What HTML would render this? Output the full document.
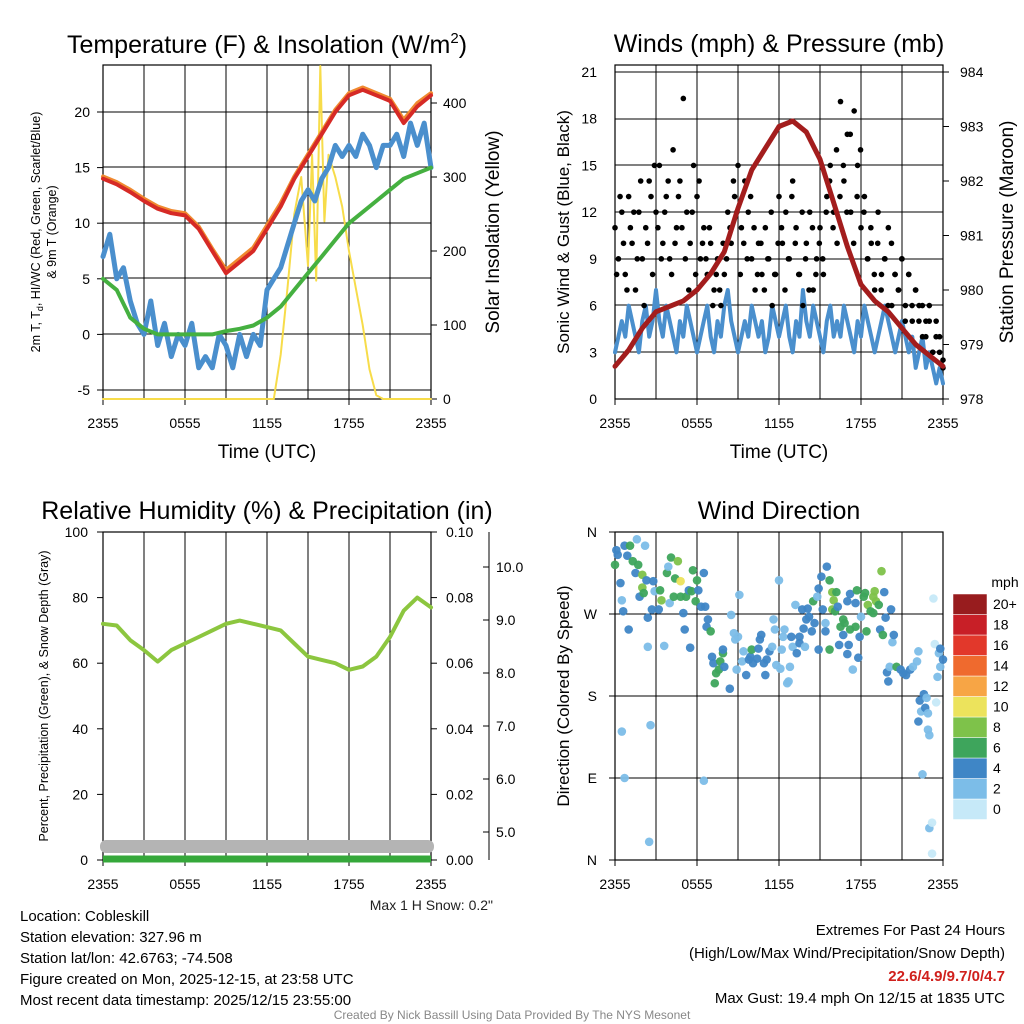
<!DOCTYPE html>
<html><head><meta charset="utf-8"><style>
body{margin:0;background:#fff;}
svg{display:block;font-family:"Liberation Sans",sans-serif;}
</style></head><body>
<svg id="c" width="1024" height="1024" viewBox="0 0 1024 1024"></svg>
<script>
// ---- data ----
var tempRed=[14,13.5,12.8,12,11.3,10.9,10.7,9.5,7.5,5.5,6.5,7.5,9.5,11.5,14,16,18,20,21.5,22,21.5,21,19,20.5,21.5];
var tempOrange=[14.2,13.7,13,12.2,11.5,11.1,10.9,9.7,7.7,5.8,6.8,7.8,9.8,11.8,14.2,16.2,18.2,20.2,21.7,22.2,21.7,21.2,19.3,20.8,21.7];
var dewGreen=[5,4,1.5,0.5,0,0,0,0,0,0.3,0.5,0.8,1.5,2.5,4,5.5,7,8.5,10,11,12,13,14,14.5,15];
var chillBlue=[7,9,5,6,3,1,0,3,-1,1,-2,0,-1,1,-3,-2,-3,0,-1,-3,0,-2,0,-1,4,5,6,8,10,12,13,12,14,15,17,16,17,16,18,17,15,17,17,18,16,19,17,19,15];
var solarH=[0,12,12.5,13,13.5,14,14.5,15,15.3,15.6,15.9,16.2,16.5,17,17.5,18,18.5,19,19.5,20,20.5,24];
var solarV=[0,0,0,60,150,250,300,180,330,160,450,240,330,300,260,200,150,100,40,5,0,0];
var windBlue=[3,4,5,4,6,5,4,3,5,6,4,5,7,5,4,6,5,4,3,5,4,6,5,4,3,4,5,6,4,3,5,4,6,7,5,4,3,4,5,4,6,5,4,5,3,4,6,5,4,5,6,4,3,5,4,7,5,4,6,5,4,3,5,6,4,5,4,6,5,4,3,5,4,6,5,4,3,4,5,6,5,4,3,4,5,4,3,4,2,3,4,2,3,2,1,2,1];
var gust=[11,9,12,8,13,10,7,12,9,11,14,8,12,15,10,13,9,16,11,14,19.3,12,10,15,13,9,11,8,10,7,9,6,8,12,10,13,15,11,14,12,9,7,10,8,11,9,6,8,13,10,12,9,14,11,8,6,10,12,7,9,11,8,13,15,12,10,19.1,14,17,12,18.5,15,11,13,9,10,7,12,8,9,11,6,8,7,9,6,8,5,7,6,4,5,6,3,5,4,2.5];
var gust2=[8,13,10,7,11,12,9,14,6,10,13,15,11,9,12,14,8,10,13,11,9,7,12,8,14,10,9,11,6,8,7,10,9,11,14,12,8,10,9,13,11,8,10,7,9,12,8,10,11,7,9,13,10,8,12,9,7,11,8,10,9,12,14,11,16,13,15,12,17,10,13,16,12,9,11,8,10,7,9,6,10,8,7,9,5,8,6,7,5,6,4,5,3,4,3,2];
var pressure=[978.6,978.9,979.3,979.6,979.7,979.8,980.0,980.3,980.7,981.5,982.2,982.6,983.0,983.1,982.9,982.4,981.6,980.8,980.1,979.8,979.6,979.3,979.0,978.8,978.6];
var rh=[72,71.5,67,64,60.5,64,66,68,70,72,73,72,71,70,66,62,61,60,58,59,62,68,76,80,77];
var dirH=[0,0.1,0.2,0.4,0.5,0.6,0.5,0.7,0.7,0.9,1.1,1.0,1.3,1.5,1.6,1.7,1.8,2.0,2.0,2.1,2.2,2.3,2.4,2.4,2.5,2.6,2.7,2.8,2.9,3.2,3.3,3.4,3.6,3.8,3.9,4.0,4.1,4.3,4.4,4.6,4.8,4.8,5.0,5.1,5.2,5.4,5.5,5.6,5.7,5.9,6.0,6.1,6.3,6.5,6.6,6.7,6.8,7.0,6.5,7.1,7.2,7.3,7.4,7.6,7.7,7.9,7.9,8.0,8.4,8.5,8.7,8.8,8.9,9.0,9.1,9.3,9.4,9.6,9.8,9.9,10.0,10.1,10.4,10.5,10.6,10.7,10.9,11.0,11.1,11.3,11.5,11.6,11.7,11.8,12.0,12.1,12.2,12.3,12.4,12.6,12.7,12.8,12.9,13.0,13.2,13.3,13.5,13.5,13.7,13.8,13.9,14.0,14.1,14.2,14.4,14.5,14.6,14.8,14.9,14.9,15.1,15.2,15.4,15.4,15.5,15.7,15.7,15.9,15.9,16.0,16.1,16.2,16.3,16.4,16.5,16.7,16.7,16.8,17.0,17.0,17.1,17.2,17.2,17.4,17.6,17.6,17.7,17.8,17.9,18.0,18.2,18.3,18.4,18.5,18.7,18.9,18.9,19.0,19.1,19.3,19.4,19.5,19.6,19.7,19.8,19.9,20.0,20.1,20.2,20.3,20.4,20.6,20.9,21.1,21.3,21.6,21.8,22.1,22.2,22.2,22.3,22.4,22.5,22.6,22.7,22.8,22.9,22.9,23.0,23.0,23.2,23.2,23.3,23.4,23.5,23.6,23.7,23.8,23.8,24.0];
var dirDeg=[324,340,335,304,285,273,141,90,345,334,345,253,328,315,352,324,289,313,299,293,345,307,266,234,20,148,275,306,295,275,296,285,235,315,322,282,332,289,309,328,289,306,271,253,289,296,233,295,318,284,307,296,278,315,278,256,264,251,87,223,216,194,205,209,218,227,231,212,188,269,249,242,209,245,291,218,229,203,220,223,231,216,221,232,242,247,216,203,220,229,234,264,253,214,307,210,231,245,253,194,196,212,245,234,280,227,245,238,275,254,234,264,276,267,251,284,260,289,231,298,311,275,260,251,322,307,231,275,294,285,273,294,278,236,256,247,264,260,226,284,236,253,292,209,282,256,296,222,245,267,289,293,251,280,273,271,289,295,284,280,253,317,247,294,266,206,196,212,275,239,247,212,209,205,203,209,212,218,229,152,175,163,94,182,167,178,143,161,137,35,41,7,287,237,173,201,227,212,232,220];
var dirSpd=[7,5,5,5,3,5,3,3,5,5,7,5,7,5,3,7,5,9,9,7,3,5,5,3,3,3,5,5,3,5,7,9,3,7,3,3,7,7,7,9,7,11,5,5,7,5,5,7,7,7,7,5,5,5,5,5,5,7,3,5,5,7,7,7,7,7,5,5,5,3,3,3,3,3,3,3,3,5,5,5,7,5,5,5,5,5,5,5,5,5,3,3,3,3,3,3,3,3,3,3,3,3,5,3,3,5,5,5,5,5,3,5,5,5,5,7,5,3,5,5,5,5,3,5,5,7,7,9,9,9,7,7,5,5,7,5,7,7,5,5,5,7,5,3,5,7,7,5,5,3,7,7,7,9,7,7,9,9,9,7,5,9,7,5,5,5,5,3,5,3,5,7,5,5,5,5,3,3,3,5,5,3,3,5,5,3,3,3,3,3,1,1,1,1,1,3,3,3,5,5,5];
var timeTicks=["2355","0555","1155","1755","2355"];
var speedBins=["0","2","4","6","8","10","12","14","16","18","20+"];
var speedColors=["#c6e9f8","#7cbde8","#3f86c6","#3ea55c","#7ec24a","#ece35c","#f7a545","#ef6a2e","#e2382b","#c81f27","#981c1e"];

var S=document.getElementById('c'),NS="http://www.w3.org/2000/svg";
function E(t,a,p){var e=document.createElementNS(NS,t);for(var k in a)e.setAttribute(k,a[k]);(p||S).appendChild(e);return e;}
function T(x,y,s,txt,o){o=o||{};var e=E('text',{x:x,y:y,'font-size':s,fill:o.fill||'#000','text-anchor':o.a||'middle'});if(o.rot)e.setAttribute('transform','rotate(-90 '+x+' '+y+')');if(o.w)e.setAttribute('font-weight',o.w);e.textContent=txt;return e;}
function lin(d0,d1,r0,r1){return function(v){return r0+(v-d0)/(d1-d0)*(r1-r0);};}
function path(xs,ys,fx,fy,st,w,name){var d='';for(var i=0;i<xs.length;i++)d+=(i?'L':'M')+fx(xs[i]).toFixed(1)+' '+fy(ys[i]).toFixed(1);var p=E('path',{d:d,fill:'none',stroke:st,'stroke-width':w,'stroke-linejoin':'round','stroke-linecap':'round'});return p;}
function idx(n,off){off=off||0;var a=[];for(var i=0;i<n;i++)a.push(off+i*(24-off)/(n-1));return a;}

function panel(L,Tp,R,B,name,title,hgrid){
  var g=E('rect',{x:L,y:Tp,width:R-L,height:B-Tp,fill:'none',stroke:'#000','stroke-width':1.2});
  
  var fx=lin(0,24,L,R);
  for(var h=3;h<24;h+=3){var l=E('line',{x1:fx(h),x2:fx(h),y1:Tp,y2:B,stroke:'#000','stroke-width':1});}
  hgrid.forEach(function(y){var l=E('line',{x1:L,x2:R,y1:y,y2:y,stroke:'#000','stroke-width':1});});
  for(var i=0;i<timeTicks.length;i++){var x=fx(i*6);E('line',{x1:x,x2:x,y1:B,y2:B+6,stroke:'#000'});var t=T(x,B+29,14,timeTicks[i]);}
  var tt=T((L+R)/2,Tp-13,25,title);
  return fx;
}
// ---- Panel 1 temperature ----
var fx1=panel(103,65,431,399,'temperature-panel','',[112,167,223,278,334,390]);
var ttl=E('text',{x:267,y:53,'font-size':25,'text-anchor':'middle'});
ttl.innerHTML='Temperature (F) &amp; Insolation (W/m<tspan dy="-10" font-size="15">2</tspan><tspan dy="10">)</tspan>';
var fy1=lin(20,-5,112,390), fs1=lin(0,400,399,103);
[-5,0,5,10,15,20].forEach(function(v){E('line',{x1:97,x2:103,y1:fy1(v),y2:fy1(v),stroke:'#000'});var t=T(90,fy1(v)+5,14,String(v),{a:'end'});});
[0,100,200,300,400].forEach(function(v){E('line',{x1:431,x2:437,y1:fs1(v),y2:fs1(v),stroke:'#000'});var t=T(443,fs1(v)+5,14,String(v),{a:'start'});});
path(solarH,solarV,fx1,fs1,'#f7dc4a',2,'solar-insolation-line');
path(idx(chillBlue.length),chillBlue,fx1,fy1,'#4a8fcd',5,'wind-chill-line');
path(idx(dewGreen.length),dewGreen,fx1,fy1,'#45b040',4,'dewpoint-line');
path(idx(tempOrange.length),tempOrange,fx1,fy1,'#f08a30',4,'temp-9m-line');
path(idx(tempRed.length),tempRed,fx1,fy1,'#d62a26',4,'temp-2m-line');
var a=E('text',{x:40,y:232,'font-size':12.5,'text-anchor':'middle',transform:'rotate(-90 40 232)'});
a.innerHTML='2m T, T<tspan dy="3" font-size="9">d</tspan><tspan dy="-3">, HI/WC (Red, Green, Scarlet/Blue)</tspan>';
var a2=T(56,232,12.5,'& 9m T (Orange)',{rot:1});
var a3=T(499,232,19,'Solar Insolation (Yellow)',{rot:1});
var a4=T(267,458,19,'Time (UTC)');

// ---- Panel 2 winds ----
var fx2=panel(615,65,943,399,'wind-panel','Winds (mph) & Pressure (mb)',[352,305,259,212,165,119,72]);
var fy2=lin(0,21,399,72), fp=lin(978,984,399,72);
[0,3,6,9,12,15,18,21].forEach(function(v){var t=T(597,fy2(v)+5,14,String(v),{a:'end'});});
[978,979,980,981,982,983,984].forEach(function(v){E('line',{x1:943,x2:949,y1:fp(v),y2:fp(v),stroke:'#000'});var t=T(960,fp(v)+5,14,String(v),{a:'start'});});
path(idx(windBlue.length),windBlue,fx2,fy2,'#4a8fcd',4,'sustained-wind-line');
var gh=idx(gust.length);
for(var i=0;i<gust.length;i++){var c=E('circle',{cx:fx2(gh[i]),cy:fy2(gust[i]),r:2.8,fill:'#000'});

}
var gh2=idx(gust2.length,0.12);
for(var i=0;i<gust2.length;i++){var c=E('circle',{cx:fx2(gh2[i]),cy:fy2(gust2[i]),r:2.8,fill:'#000'});

}
path(idx(pressure.length),pressure,fx2,fp,'#a31d1d',5,'pressure-line');
var b1=T(569,232,17,'Sonic Wind & Gust (Blue, Black)',{rot:1});
var b2=T(1013,232,19,'Station Pressure (Maroon)',{rot:1});
var b3=T(779,458,19,'Time (UTC)');

// ---- Panel 3 RH ----
var fx3=panel(103,532,431,860,'humidity-panel','Relative Humidity (%) & Precipitation (in)',[]);
var fy3=lin(0,100,860,532);
[0,20,40,60,80,100].forEach(function(v){E('line',{x1:97,x2:103,y1:fy3(v),y2:fy3(v),stroke:'#000'});var t=T(88,fy3(v)+5,14,String(v),{a:'end'});});
['0.00','0.02','0.04','0.06','0.08','0.10'].forEach(function(v,i){var y=fy3(i*20);E('line',{x1:431,x2:437,y1:y,y2:y,stroke:'#000'});var t=T(446,y+5,14,v,{a:'start'});});
var sx=E('line',{x1:489,x2:489,y1:532,y2:860,stroke:'#000'});
var fsn=lin(5,10,832,567);
['5.0','6.0','7.0','8.0','9.0','10.0'].forEach(function(v,i){var y=fsn(5+i);E('line',{x1:483,x2:489,y1:y,y2:y,stroke:'#000'});var t=T(496,y+5,14,v,{a:'start'});});
var sg=E('rect',{x:100,y:840,width:334,height:13,rx:6,fill:'#b4b4b4'});
var pg=E('line',{x1:103,x2:431,y1:859,y2:859,stroke:'#35a83a','stroke-width':7});
path(idx(rh.length),rh,fx3,fy3,'#8cc63f',4,'rh-line');
var c1=T(48,696,12.5,'Percent, Precipitation (Green), & Snow Depth (Gray)',{rot:1});
var c2=T(493,910,14,'Max 1 H Snow: 0.2"',{a:'end',fill:'#222'});

// ---- Panel 4 direction ----
var fx4=panel(615,532,943,860,'direction-panel','Wind Direction',[614,696,778]);
var fd=lin(0,360,860,532);
['N','E','S','W','N'].forEach(function(v,i){var y=fd(i*90);E('line',{x1:609,x2:615,y1:y,y2:y,stroke:'#000'});var t=T(597,y+5,14,v,{a:'end'});});
function col(s){var k=Math.min(10,Math.floor(s/2));return speedColors[k];}
for(var i=0;i<dirH.length;i++){var c=E('circle',{cx:fx4(dirH[i]),cy:fd(dirDeg[i]),r:4.3,fill:col(dirSpd[i]),'fill-opacity':0.95});

}
var d1=T(569,696,17,'Direction (Colored By Speed)',{rot:1});
var mt=T(1005,587,14,'mph');
for(var k=0;k<speedBins.length;k++){var y=594+(10-k)*20.5;var r=E('rect',{x:953,y:y,width:34,height:20.5,fill:speedColors[k],stroke:'#fff','stroke-width':0.5});


var t=T(993,y+15,14,speedBins[k],{a:'start'});}

// ---- bottom text ----
var info=['Location: Cobleskill','Station elevation: 327.96 m','Station lat/lon: 42.6763; -74.508','Figure created on Mon, 2025-12-15, at 23:58 UTC','Most recent data timestamp: 2025/12/15 23:55:00'];
info.forEach(function(s,i){var t=T(20,921+i*21,15,s,{a:'start'});});
var r1=T(1005,935,15,'Extremes For Past 24 Hours',{a:'end'});
var r2=T(1005,958,15,'(High/Low/Max Wind/Precipitation/Snow Depth)',{a:'end'});
var r3=T(1005,981,15,'22.6/4.9/9.7/0/4.7',{a:'end',fill:'#d0201c',w:'bold'});
var r4=T(1005,1003,15,'Max Gust: 19.4 mph On 12/15 at 1835 UTC',{a:'end'});
var cr=T(512,1019,12,'Created By Nick Bassill Using Data Provided By The NYS Mesonet',{fill:'#888'});
</script>
</body></html>
